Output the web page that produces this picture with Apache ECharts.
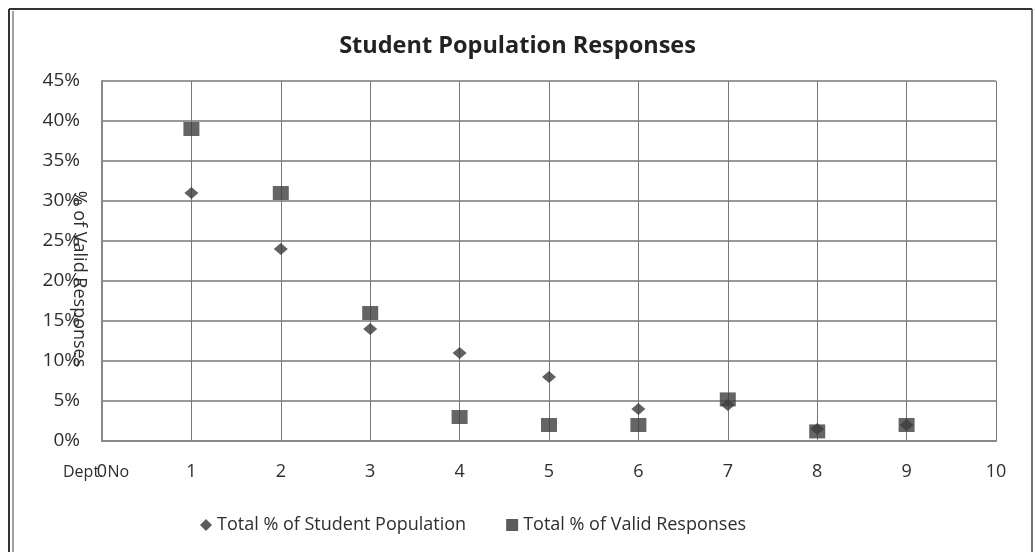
<!DOCTYPE html>
<html>
<head>
<meta charset="utf-8">
<script src="https://cdn.jsdelivr.net/npm/echarts@6/dist/echarts.min.js"></script>
<style>
  html, body { margin: 0; padding: 0; background: #fff; }
  #chart { width: 1035px; height: 552px; }
</style>
</head>
<body>
<div id="chart"></div>
<script>
// department numbers and the two percentages
const depts = [1, 2, 3, 4, 5, 6, 7, 8, 9];
const studentPct = [31, 24, 14, 11, 8, 4, 4.5, 1.5, 2];
const validPct = [39, 31, 16, 3, 2, 2, 5.2, 1.2, 2];

const FONT = '"Open Sans", "Noto Sans", sans-serif';
const INK = '#2e2e2e';

const chart = echarts.init(document.getElementById('chart'));

chart.setOption({
  backgroundColor: '#fff',
  animation: false,
  textStyle: { fontFamily: FONT },
  title: {
    text: 'Student Population Responses',
    left: 'center',
    top: 29,
    textStyle: { fontFamily: FONT, fontSize: 23.5, fontWeight: 'bold', color: '#222' },
  },
  legend: {
    top: 511,
    left: 195,
    itemGap: 40,
    itemWidth: 12,
    itemHeight: 12,
    textStyle: { fontFamily: FONT, fontSize: 18, color: INK },
    data: [
      { name: 'Total % of Student Population', icon: 'diamond', itemStyle: { color: '#333' } },
      { name: 'Total % of Valid Responses', icon: 'rect', itemStyle: { color: '#333' } },
    ],
  },
  grid: { left: 102, right: 39, top: 81, bottom: 111 },
  xAxis: {
    type: 'value',
    min: 0,
    max: 10,
    interval: 1,
    name: 'Dept. No',
    nameLocation: 'start',
    nameGap: 39,
    nameMoveOverlap: false,
    nameTextStyle: { fontFamily: FONT, fontSize: 16, color: INK, align: 'left', verticalAlign: 'top', padding: [23, 0, 0, 0] },
    axisLine: { show: true, lineStyle: { color: '#888', width: 2 } },
    axisTick: { show: false },
    axisLabel: { color: INK, fontSize: 18, margin: 22 },
    splitLine: { show: true, lineStyle: { color: '#777', width: 1 } },
  },
  yAxis: {
    type: 'value',
    min: 0,
    max: 45,
    interval: 5,
    name: '% of Valid Responses',
    nameLocation: 'middle',
    nameRotate: -90,
    nameGap: 14,
    nameMoveOverlap: false,
    nameTextStyle: { fontFamily: FONT, fontSize: 18, color: INK, padding: [0, 0, 0, 36] },
    axisLine: { show: true, lineStyle: { color: '#888', width: 2 } },
    axisTick: { show: false },
    axisLabel: { color: INK, fontSize: 19, margin: 22, formatter: '{value}%' },
    splitLine: { show: true, lineStyle: { color: '#999', width: 2 } },
  },
  graphic: [
    { type: 'line', shape: { x1: 9, y1: 9, x2: 1032, y2: 9 }, style: { stroke: '#333', lineWidth: 2 } },
    { type: 'line', shape: { x1: 9, y1: 9, x2: 9, y2: 552 }, style: { stroke: '#333', lineWidth: 2 } },
    { type: 'line', shape: { x1: 13, y1: 11, x2: 13, y2: 552 }, style: { stroke: '#444', lineWidth: 1 } },
    { type: 'line', shape: { x1: 1032, y1: 9, x2: 1032, y2: 552 }, style: { stroke: '#444', lineWidth: 1.5 } },
  ],
  series: [
    {
      name: 'Total % of Student Population',
      type: 'scatter',
      symbol: 'diamond',
      symbolSize: [14, 12],
      itemStyle: { color: '#3a3a3a' },
      data: depts.map((d, i) => [d, studentPct[i]]),
      z: 2,
    },
    {
      name: 'Total % of Valid Responses',
      type: 'scatter',
      symbol: 'rect',
      symbolSize: [16, 14],
      itemStyle: { color: '#3f3f3f' },
      data: depts.map((d, i) => [d, validPct[i]]),
      z: 3,
    },
  ],
});
</script>
</body>
</html>
